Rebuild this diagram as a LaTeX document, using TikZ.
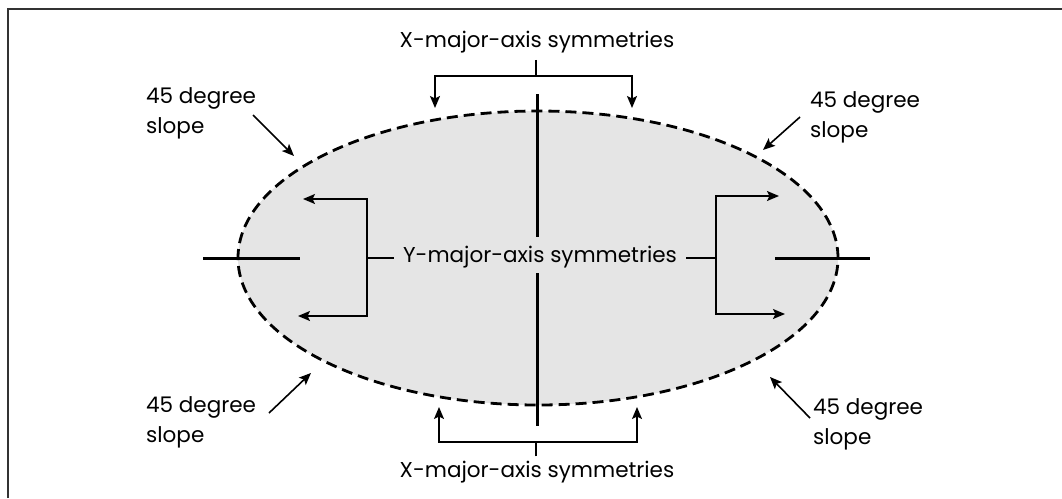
\documentclass[tikz,border=0pt]{standalone}
\usepackage{fontspec}
\setmainfont{Poppins}
\usetikzlibrary{arrows.meta,shapes.geometric}
\tikzset{
  frameline/.style={line width=2.2pt,draw=black!80},
  oval/.style={ellipse,draw=black,line width=2.8pt,dash pattern=on 11pt off 6pt,fill=black!10,minimum width=600pt,minimum height=294pt,inner sep=0pt},
  axisline/.style={line width=3pt,draw=black},
  plainline/.style={line width=1.6pt,draw=black},
  arr/.style={line width=1.6pt,draw=black,-{Stealth[length=12pt,width=10pt,inset=2.5pt]}},
  lbl/.style={font=\fontsize{21.5}{30}\selectfont,inner sep=0pt,text=black},
}
\begin{document}
\begin{tikzpicture}[x=1pt,y=-1pt]
\useasboundingbox (0,0) rectangle (1062,498);
\draw[frameline] (8,498) -- (8,9) -- (1062,9);
\node[oval] (ov) at (538,258) {};
% vertical axis broken by the label
\coordinate (vt) at (537,94);
\coordinate (vb) at (537,426);
\coordinate (vg1) at (537,237);
\coordinate (vg2) at (537,273);
\draw[axisline] (vt) -- (vg1);
\draw[axisline] (vg2) -- (vb);
% horizontal axis pieces
\coordinate (hl1) at (203,258); \coordinate (hl2) at (300,258);
\coordinate (hr1) at (775,258); \coordinate (hr2) at (870,258);
\draw[axisline] (hl1) -- (hl2);
\draw[axisline] (hr1) -- (hr2);
% Y label and brackets
\node[lbl,anchor=base,inner xsep=9pt] (ysym) at (540,262) {Y-major-axis symmetries};
\coordinate (lbm) at (367,258);
\coordinate (lbt) at (303,199);
\coordinate (lbb) at (298,316);
\draw[plainline] (ysym.west |- lbm) -- (lbm);
\draw[arr] (lbm) |- (lbt);
\draw[arr] (lbm) |- (lbb);
\coordinate (rbm) at (716,258);
\coordinate (rbt) at (779,196);
\coordinate (rbb) at (785,314);
\draw[plainline] (ysym.east |- rbm) -- (rbm);
\draw[arr] (rbm) |- (rbt);
\draw[arr] (rbm) |- (rbb);
% X labels and brackets
\node[lbl,anchor=base,inner ysep=7pt] (xtop) at (537,47) {X-major-axis symmetries};
\coordinate (tbm) at (536,76);
\coordinate (tbl) at (435,108);
\coordinate (tbr) at (632,108);
\draw[plainline] (xtop.south -| tbm) -- (tbm);
\draw[arr] (tbm) -| (tbl);
\draw[arr] (tbm) -| (tbr);
\node[lbl,anchor=base,inner ysep=4pt] (xbot) at (537,477) {X-major-axis symmetries};
\coordinate (bbm) at (536,442);
\coordinate (bbl) at (439,407);
\coordinate (bbr) at (637,407);
\draw[plainline] (xbot.north -| bbm) -- (bbm);
\draw[arr] (bbm) -| (bbl);
\draw[arr] (bbm) -| (bbr);
% 45 degree labels (base anchor = baseline of the last line)
\node[lbl,anchor=base west,align=left] (stl) at (146,133) {45 degree\\slope};
\node[lbl,anchor=base west,align=left] (str) at (810,137) {45 degree\\slope};
\node[lbl,anchor=base west,align=left] (sbl) at (146,442) {45 degree\\slope};
\node[lbl,anchor=base west,align=left] (sbr) at (813,444) {45 degree\\slope};
\coordinate (atl1) at (253,115); \coordinate (atl2) at (294,156);
\coordinate (atr1) at (800,117); \coordinate (atr2) at (763,150);
\coordinate (abl1) at (269,413); \coordinate (abl2) at (311,373);
\coordinate (abr1) at (810,418); \coordinate (abr2) at (770,377);
\draw[arr] (atl1) -- (atl2);
\draw[arr] (atr1) -- (atr2);
\draw[arr] (abl1) -- (abl2);
\draw[arr] (abr1) -- (abr2);
\end{tikzpicture}
\end{document}
